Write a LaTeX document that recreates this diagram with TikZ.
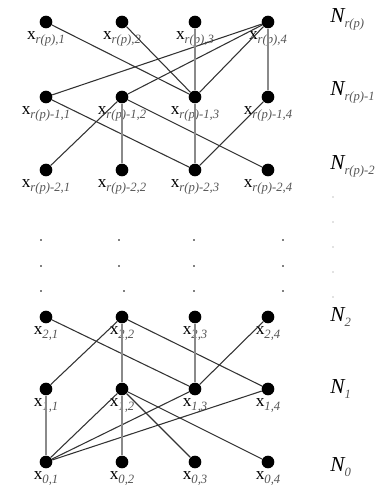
\documentclass[tikz,border=0pt]{standalone}
\usepackage{fontspec}
\setmainfont{Liberation Serif}
\usepackage{tikz}
\usetikzlibrary{positioning}
\definecolor{CEdge}{HTML}{333333}
\definecolor{CVert}{HTML}{8A8A8A}
\definecolor{CSub}{HTML}{555555}

\begin{document}
\begin{tikzpicture}[x=0.75pt, y=-0.75pt,
    vtx/.style={circle, fill=black, inner sep=0pt, minimum size=9.5pt},
    lbl/.style={inner sep=0pt, font=\fontsize{13}{13}\selectfont},
    lvl/.style={anchor=west, inner sep=0pt, font=\fontsize{16}{16}\selectfont\itshape},
    edge/.style={CEdge, line width=0.8pt},
    vedge/.style={CVert, line width=2pt}]
  \useasboundingbox (0,0) rectangle (380,496);
  % vertices and their names, one row per level
  \foreach \row/\yy/\sub in {rp/22/{r(p)}, rpa/97/{r(p)-1}, rpb/170/{r(p)-2},
                             two/317/{2}, one/389/{1}, zero/462/{0}}{
    \foreach \c/\xx in {1/46, 2/122, 3/195, 4/268}{
      \node[vtx] (\row-\c) at (\xx,\yy) {};
      \node[lbl, below=2pt of \row-\c] (\row-\c-t)
        {x\raisebox{-0.45ex}{\color{CSub}\fontsize{9.5}{10}\selectfont\itshape \sub,\c}};
    }
  }
  % level names
  \foreach \row/\yy/\sub in {rp/19/{r(p)}, rpa/92/{r(p)-1}, rpb/166/{r(p)-2},
                             two/317/{2}, one/389/{1}, zero/467/{0}}{
    \node[lvl] (N-\row) at (330,\yy)
      {N\raisebox{-0.5ex}{\color{CSub}\fontsize{9.5}{10}\selectfont\itshape \sub}};
  }
  % elided levels
  \foreach \xx in {41, 119, 194, 283}{
    \foreach \yy in {240, 266}{
      \fill (\xx,\yy) circle (0.9);
    }
  }
  \foreach \xx in {41, 124, 194, 283}{
    \fill (\xx,291) circle (0.9);
  }
  \foreach \yy in {197, 222, 247, 272, 297}{
    \fill[gray] (333,\yy) circle (0.7);
  }
  % links
  \foreach \a/\b in {rp-1/rpa-3, rp-2/rpa-3, rp-4/rpa-1, rp-4/rpa-2, rp-4/rpa-3,
                     rpa-1/rpb-3, rpa-2/rpb-1, rpa-2/rpb-4, rpa-4/rpb-3,
                     two-1/one-3, two-2/one-1, two-2/one-4, two-4/one-3,
                     one-2/zero-1, one-2/zero-3, one-2/zero-4, one-3/zero-1, one-4/zero-1}{
    \draw[edge] (\a) -- (\b);
  }
  \foreach \a/\b in {rp-3/rpa-3, rp-4/rpa-4, rpa-2/rpb-2, rpa-3/rpb-3,
                     two-2/one-2, two-3/one-3, one-1/zero-1, one-2/zero-2}{
    \draw[vedge] (\a) -- (\b);
  }
\end{tikzpicture}
\end{document}
